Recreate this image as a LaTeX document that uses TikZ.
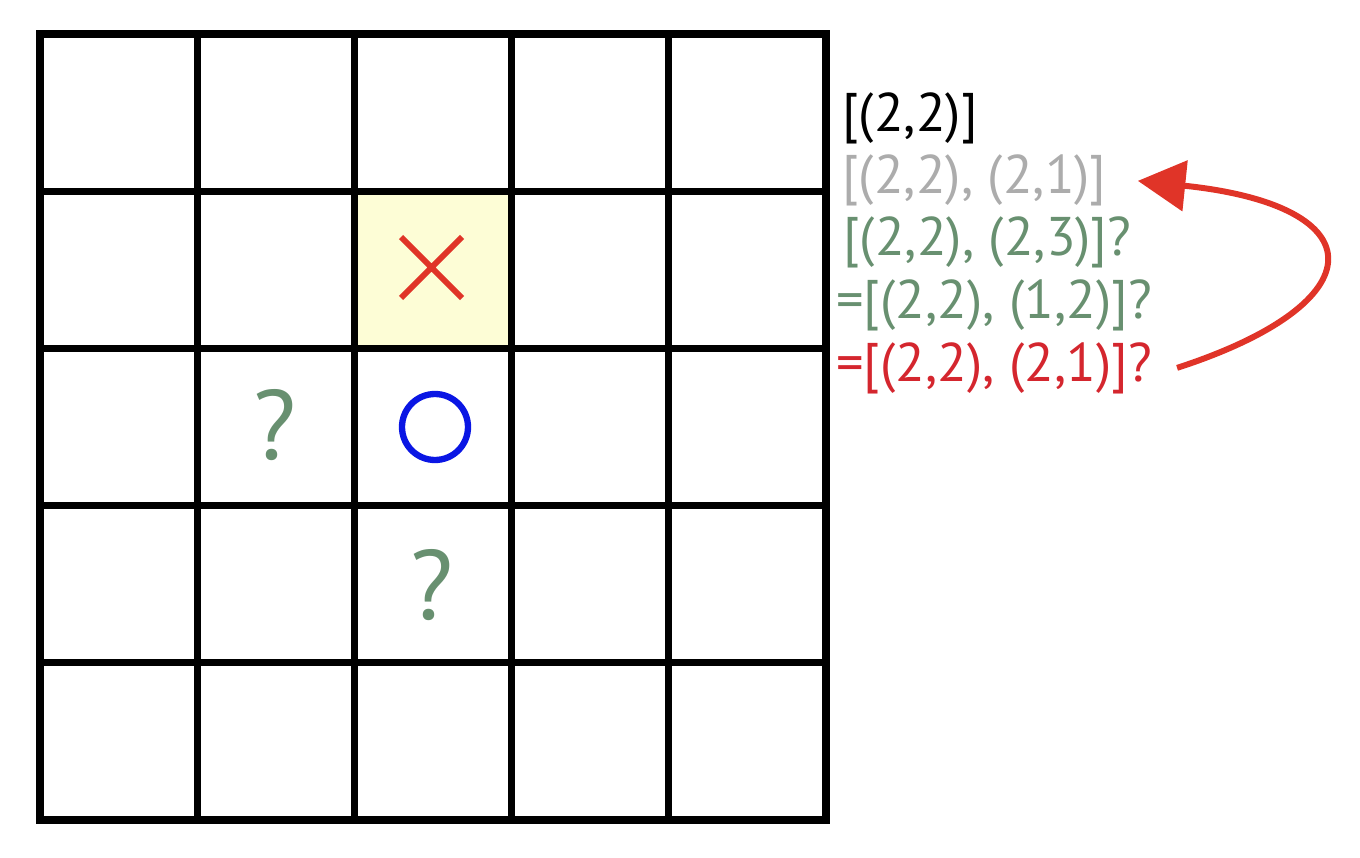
\documentclass[tikz,border=0pt]{standalone}
\usepackage{fontspec}
\setmainfont{PT Sans}
\usetikzlibrary{arrows.meta}
\definecolor{markred}{RGB}{224,52,40}
\definecolor{qgreen}{RGB}{104,144,112}
\definecolor{pathgray}{RGB}{172,172,172}
\definecolor{pathred}{RGB}{212,38,46}
\definecolor{cellyellow}{RGB}{253,253,214}
\definecolor{oblue}{RGB}{10,22,228}
\tikzset{
	gridline/.style={line width=4pt, line cap=rect},
	pathtext/.style={anchor=base west, inner sep=0pt, font=\fontsize{31}{36}\selectfont},
	qmark/.style={text=qgreen, inner sep=0pt, font=\fontsize{56}{60}\selectfont}
}
\begin{document}
\begin{tikzpicture}[x=0.02cm, y=-0.02cm]
		\useasboundingbox (0,0) rectangle (1360,858);
		\fill[cellyellow] (356,190) rectangle (513,348);
		\foreach \i in {0,...,5} {
			\draw[gridline] (40+157.2*\i,34) -- (40+157.2*\i,820);
			\draw[gridline] (40,34+157.2*\i) -- (826,34+157.2*\i);
		}
		\draw[markred, line width=3.4pt] (401,237) -- (462,298) (401,298) -- (462,237);
		\draw[oblue, line width=3.6pt] (435,427) circle (33);
		\node[qmark] (qleft) at (275,425) {?};
		\node[qmark] (qbelow) at (432,585) {?};
		\node[pathtext] (pstart) at (842,132) {[(2,2)]};
		\node[pathtext, text=pathgray] (pgray) at (842,194) {[(2,2), (2,1)]};
		\node[pathtext, text=qgreen] (pgreena) at (843,256) {[(2,2), (2,3)]?};
		\node[pathtext, text=qgreen] (pgreenb) at (836,319) {=[(2,2), (1,2)]?};
		\node[pathtext, text=pathred] (pred) at (836,381) {=[(2,2), (2,1)]?};
		\draw[markred, line width=3.4pt, -{Triangle[length=0.95cm, width=1cm]}]
			([xshift=0.5cm]pred.east) .. controls +(200,-65) and +(240,25) .. ([xshift=0.62cm]pgray.east);
	\end{tikzpicture}
\end{document}
